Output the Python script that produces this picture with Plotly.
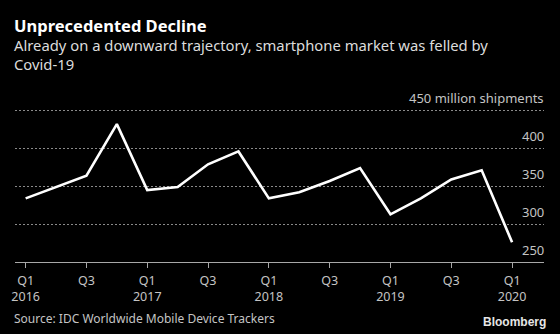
import plotly.graph_objects as go

quarters = ["Q1 2016", "Q2 2016", "Q3 2016", "Q4 2016",
            "Q1 2017", "Q2 2017", "Q3 2017", "Q4 2017",
            "Q1 2018", "Q2 2018", "Q3 2018", "Q4 2018",
            "Q1 2019", "Q2 2019", "Q3 2019", "Q4 2019",
            "Q1 2020"]
shipments = [334, 349, 364, 432, 345, 349, 379, 396,
             334, 342, 357, 374, 313, 334, 359, 371, 276]

x_tick_idx = [0, 2, 4, 6, 8, 10, 12, 14, 16]
x_tick_text = ["Q1<br>2016", "Q3", "Q1<br>2017", "Q3", "Q1<br>2018", "Q3",
               "Q1<br>2019", "Q3", "Q1<br>2020"]
y_tick_vals = [250, 300, 350, 400, 450]
y_tick_text = ["250", "300", "350", "400", "450 million shipments"]

title = "Unprecedented Decline"
subtitle = "Already on a downward trajectory, smartphone market was felled by<br>Covid-19"
source = "Source: IDC Worldwide Mobile Device Trackers"

FONT = "Noto Sans"
W, H = 560, 334
Y_MIN, Y_MAX = 250, 452
B = 72
L, R, T = 15, 16, 109
pw, ph = W - L - R, H - T - B

def px(xp):
    return (xp - L) / pw

def py(yp):
    return (H - B - yp) / ph

fig = go.Figure()
fig.add_trace(go.Scatter(
    x=list(range(len(quarters))), y=shipments, mode="lines",
    line=dict(color="#ffffff", width=2.6),
    hoverinfo="skip", showlegend=False,
))

annotations = [
    dict(text=f'<b><span style="font-size:16.5px;color:#ffffff">{title}</span></b><br>{subtitle}',
         x=px(12), y=py(43.5), xref="paper", yref="paper",
         xanchor="left", yanchor="middle", align="left",
         showarrow=False, font=dict(family=FONT, size=14.8, color="#dcdcdc")),
    dict(text=source, x=px(12), y=py(318),
         xref="paper", yref="paper", xanchor="left", yanchor="middle",
         showarrow=False, font=dict(family=FONT, size=12, color="#c4c4c4")),
    dict(text="<b>Bloomberg</b>", x=px(548), y=py(322),
         xref="paper", yref="paper", xanchor="right", yanchor="middle",
         showarrow=False, font=dict(family="Liberation Sans", size=12, color="#e6e6e6")),
]
for v, t in zip(y_tick_vals, y_tick_text):
    annotations.append(dict(
        text=t, x=1, y=v, xref="paper", yref="y",
        xanchor="right", yanchor="middle", yshift=12.5, xshift=2,
        showarrow=False, font=dict(family=FONT, size=13, color="#c4c4c4"),
    ))

fig.update_layout(
    width=W, height=H,
    margin=dict(l=L, r=R, t=T, b=B),
    paper_bgcolor="#000000", plot_bgcolor="#000000",
    font=dict(family=FONT, color="#c4c4c4", size=13),
    xaxis=dict(
        range=[-0.35, 17.05], tickmode="array",
        tickvals=x_tick_idx, ticktext=x_tick_text,
        showgrid=False, zeroline=False,
        showline=True, linecolor="#a8a8a8", linewidth=1,
        ticks="outside", ticklen=5, tickcolor="#a8a8a8", tickwidth=1,
        ticklabelstandoff=2,
        tickfont=dict(family=FONT, size=12.5, color="#c4c4c4"),
        fixedrange=True,
    ),
    yaxis=dict(
        range=[Y_MIN, Y_MAX], side="right", tickmode="array",
        tickvals=y_tick_vals, showticklabels=False,
        showgrid=True, gridcolor="#8a8a8a", griddash="2px,2px", gridwidth=1,
        zeroline=False, showline=False, ticks="",
        fixedrange=True,
    ),
    annotations=annotations,
)

fig.write_html("out.html")
